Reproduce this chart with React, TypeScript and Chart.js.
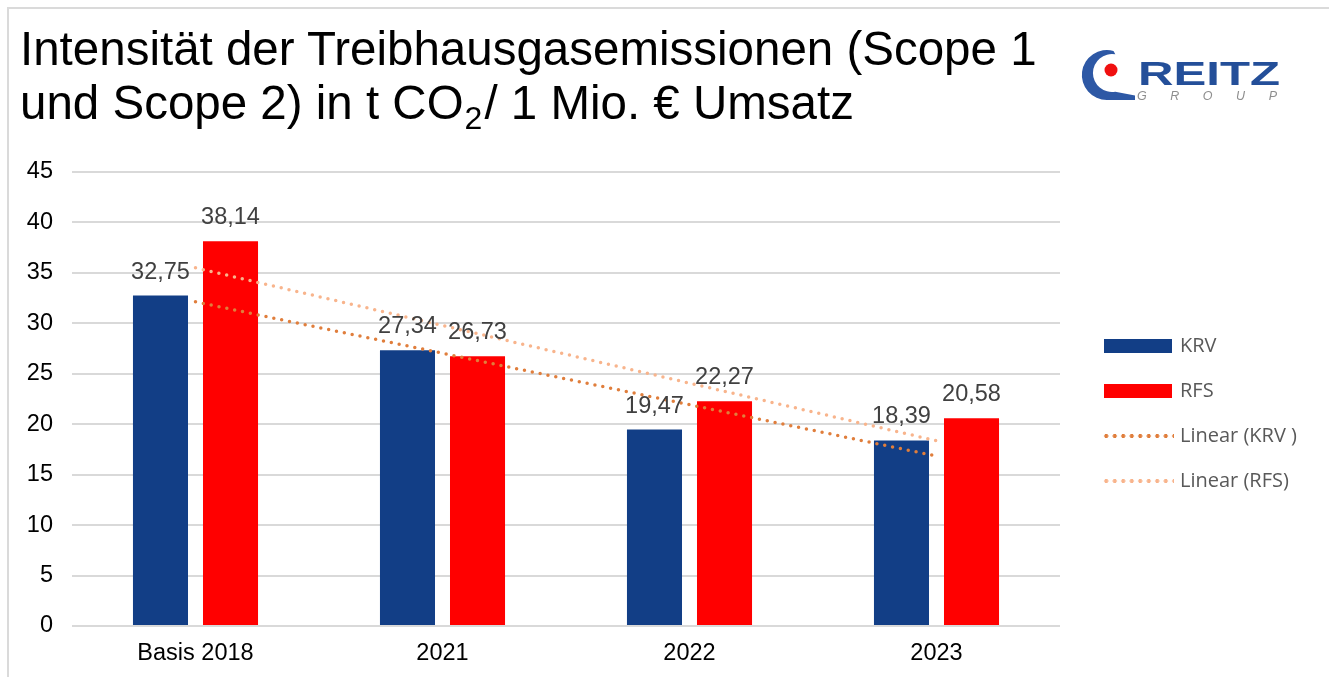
import React, { useEffect, useRef } from "react";
import { Chart, registerables } from "chart.js";

Chart.register(...registerables);

const categories = ["Basis 2018", "2021", "2022", "2023"];
const krvValues = [32.75, 27.34, 19.47, 18.39];
const rfsValues = [38.14, 26.73, 22.27, 20.58];
const yTicks = [0, 5, 10, 15, 20, 25, 30, 35, 40, 45];

const KRV_COLOR = "#123E86";
const RFS_COLOR = "#FF0000";
const KRV_TREND = "#E07E3C";
const RFS_TREND = "#F8B48C";
const FONT = "'Liberation Sans', Arial, sans-serif";

// least-squares linear trend (as the spreadsheet's "Linear" trendline)
function linearTrend(values: number[]): number[] {
  const n = values.length;
  const xs = values.map((_, i) => i + 1);
  const mx = xs.reduce((a, b) => a + b, 0) / n;
  const my = values.reduce((a, b) => a + b, 0) / n;
  let sxy = 0;
  let sxx = 0;
  for (let i = 0; i < n; i++) {
    sxy += (xs[i] - mx) * (values[i] - my);
    sxx += (xs[i] - mx) * (xs[i] - mx);
  }
  const slope = sxy / sxx;
  const intercept = my - slope * mx;
  return xs.map((x) => intercept + slope * x);
}

const valueLabels = {
  id: "valueLabels",
  afterDatasetsDraw(chart: any) {
    const ctx = chart.ctx;
    ctx.save();
    ctx.font = `23.5px ${FONT}`;
    ctx.fillStyle = "#404040";
    ctx.textAlign = "center";
    ctx.textBaseline = "alphabetic";
    chart.data.datasets.forEach((ds: any, di: number) => {
      if (ds.type !== "bar") return;
      const meta = chart.getDatasetMeta(di);
      meta.data.forEach((el: any, i: number) => {
        const v = ds.data[i] as number;
        ctx.fillText(v.toFixed(2).replace(".", ","), el.x, el.y - 17);
      });
    });
    ctx.restore();
  },
};

export default function App() {
  const canvasRef = useRef<HTMLCanvasElement | null>(null);

  useEffect(() => {
    if (!canvasRef.current) return;
    const chart = new Chart(canvasRef.current, {
      type: "bar",
      data: {
        labels: categories,
        datasets: [
          {
            type: "bar",
            label: "KRV",
            data: krvValues,
            backgroundColor: KRV_COLOR,
            categoryPercentage: 0.567,
            barPercentage: 0.786,
            order: 1,
          },
          {
            type: "bar",
            label: "RFS",
            data: rfsValues,
            backgroundColor: RFS_COLOR,
            categoryPercentage: 0.567,
            barPercentage: 0.786,
            order: 1,
          },
          {
            type: "line",
            label: "Linear (KRV )",
            data: linearTrend(krvValues),
            borderColor: KRV_TREND,
            borderWidth: 3.5,
            borderDash: [0, 8],
            borderCapStyle: "round",
            pointRadius: 0,
            fill: false,
            order: 0,
          },
          {
            type: "line",
            label: "Linear (RFS)",
            data: linearTrend(rfsValues),
            borderColor: RFS_TREND,
            borderWidth: 3.5,
            borderDash: [0, 8],
            borderCapStyle: "round",
            pointRadius: 0,
            fill: false,
            order: 0,
          },
        ] as any,
      },
      options: {
        responsive: false,
        animation: false,
        layout: { padding: { left: 0, top: 172, right: 269, bottom: 0 } },
        plugins: {
          legend: { display: false },
          tooltip: { enabled: false },
          title: { display: false },
        },
        scales: {
          x: {
            grid: { display: false, drawTicks: false },
            border: { display: false },
            ticks: {
              color: "#000000",
              font: { family: FONT, size: 23.5 },
              padding: 13,
            },
            afterFit: (s: any) => {
              s.height = 51;
            },
          },
          y: {
            min: 0,
            max: 45,
            afterBuildTicks: (s: any) => {
              s.ticks = yTicks.map((v) => ({ value: v }));
            },
            grid: { color: "#D9D9D9", lineWidth: 2, drawTicks: false },
            border: { display: false },
            ticks: {
              color: "#000000",
              font: { family: FONT, size: 23.5 },
              padding: 19,
            },
            afterFit: (s: any) => {
              s.width = 72;
            },
          },
        },
      } as any,
      plugins: [valueLabels],
    });
    return () => chart.destroy();
  }, []);

  const legendText: React.CSSProperties = {
    position: "absolute",
    left: 1180,
    fontFamily: "'Open Sans', 'Noto Sans', sans-serif",
    fontSize: 20,
    color: "#595959",
    lineHeight: "20px",
    whiteSpace: "nowrap",
  };

  const dotted = (color: string, top: number) => (
    <div
      style={{
        position: "absolute",
        left: 1102,
        top: top - 2,
        width: 72,
        height: 4,
        backgroundImage: `radial-gradient(circle, ${color} 1.8px, transparent 2.2px)`,
        backgroundSize: "8.5px 4px",
        backgroundRepeat: "repeat-x",
      }}
    />
  );

  return (
    <div
      style={{
        position: "absolute",
        left: 0,
        top: 0,
        width: 1329,
        height: 677,
        background: "#ffffff",
        overflow: "hidden",
      }}
    >
      <div
        style={{
          position: "absolute",
          left: 7,
          top: 7,
          width: 1340,
          height: 700,
          borderTop: "2px solid #DADADA",
          borderLeft: "2px solid #DADADA",
        }}
      />
      <canvas
        ref={canvasRef}
        width={1329}
        height={677}
        style={{ position: "absolute", left: 0, top: 0, width: 1329, height: 677 }}
      />
      <div
        style={{
          position: "absolute",
          left: 20,
          top: 22,
          fontFamily: FONT,
          fontSize: 47.5,
          lineHeight: "54px",
          color: "#000000",
          whiteSpace: "nowrap",
        }}
      >
        <div>Intensität der Treibhausgasemissionen (Scope 1</div>
        <div>
          und Scope 2) in t CO
          <span style={{ fontSize: 32, position: "relative", top: 10, lineHeight: 0, marginLeft: 1, marginRight: 2 }}>2</span>/ 1 Mio. € Umsatz
        </div>
      </div>

      <svg
        style={{ position: "absolute", left: 1075, top: 40 }}
        width={215}
        height={70}
        viewBox="0 0 215 70"
      >
        <path
          d="M 38.5 10.9 A 25 25 0 1 0 32 60 L 60 60 L 60 55.5 L 40.3 51.7 A 19 19 0 1 1 40.3 14.3 Z"
          fill="#2D58A5"
        />
        <circle cx={36} cy={30} r={6.5} fill="#F01010" />
        <text
          x={63}
          y={45}
          textLength={142}
          lengthAdjust="spacingAndGlyphs"
          fontFamily={FONT}
          fontWeight="bold"
          fontSize={34}
          fill="#244F99"
        >
          REITZ
        </text>
        <text
          x={62}
          y={60}
          textLength={140}
          lengthAdjust="spacing"
          fontFamily={FONT}
          fontStyle="italic"
          fontSize={12.5}
          fill="#8E8E8E"
        >
          GROUP
        </text>
      </svg>

      <div style={{ position: "absolute", left: 1104, top: 339, width: 68, height: 14, background: KRV_COLOR }} />
      <div style={{ ...legendText, top: 335 }}>KRV</div>
      <div style={{ position: "absolute", left: 1104, top: 384, width: 68, height: 14, background: RFS_COLOR }} />
      <div style={{ ...legendText, top: 380 }}>RFS</div>
      {dotted(KRV_TREND, 436)}
      <div style={{ ...legendText, top: 425 }}>Linear (KRV )</div>
      {dotted(RFS_TREND, 481)}
      <div style={{ ...legendText, top: 470 }}>Linear (RFS)</div>
    </div>
  );
}
